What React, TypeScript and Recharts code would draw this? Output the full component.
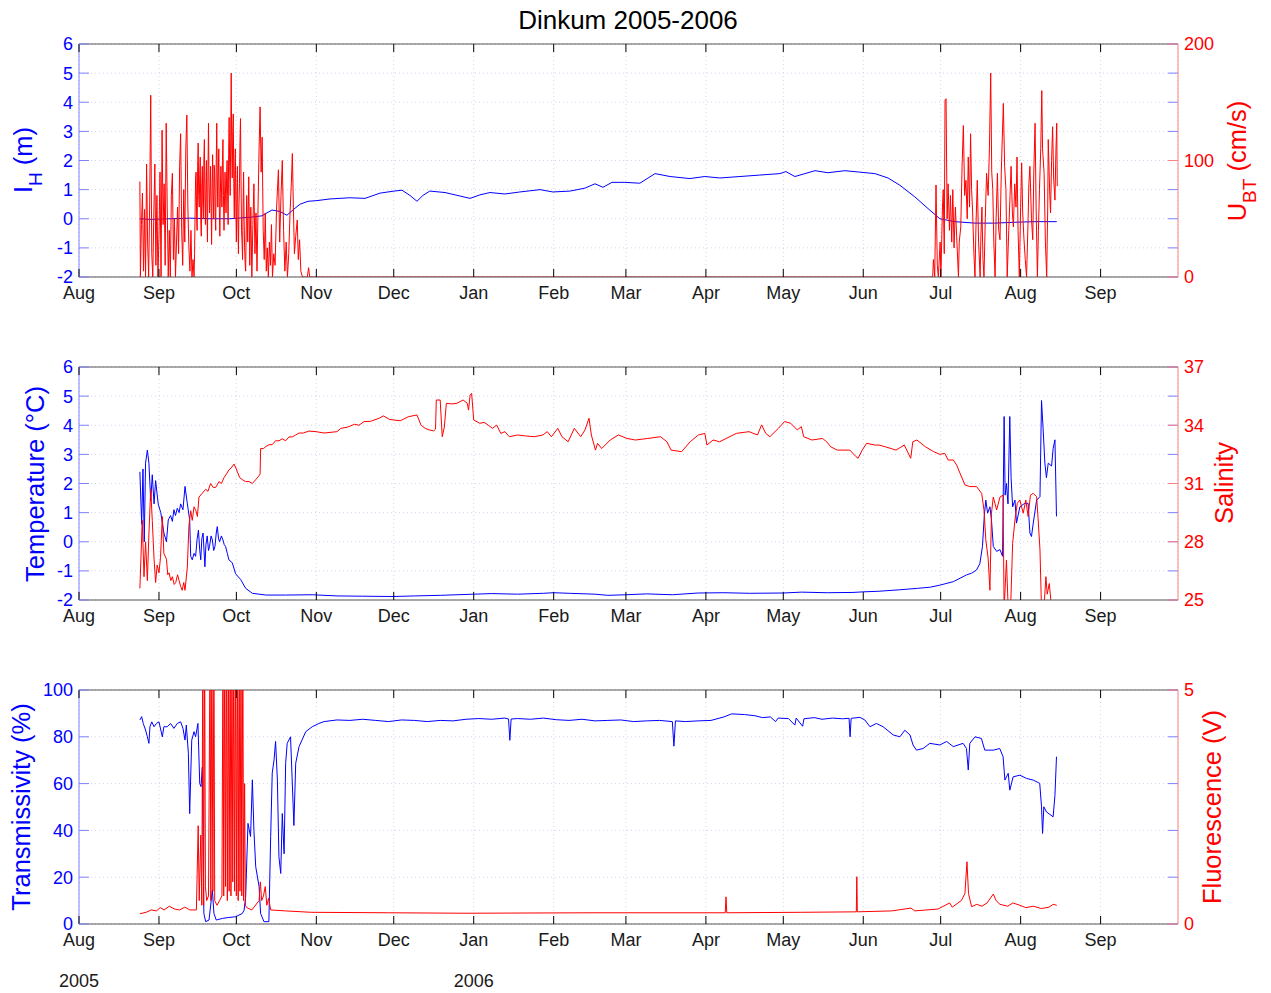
import {
  ComposedChart,
  Line,
  XAxis,
  YAxis,
  CartesianGrid,
  ReferenceLine,
} from "recharts";

const FONT = "'Liberation Sans', Arial, Helvetica, sans-serif";
const BLUE = "#0000ff";
const RED = "#ff0000";
const BLUE_AXIS = "#8080ff";
const RED_AXIS = "#ff8080";
const GRID = "#d2d5ee";
const FRAME = "#555555";
const PLOT_W = 1099;

// x values are days since 1 Aug 2005
const monthTicks = [0, 31, 61, 92, 122, 153, 184, 212, 243, 273, 304, 334, 365, 396];
const monthLabels = ["Aug", "Sep", "Oct", "Nov", "Dec", "Jan", "Feb", "Mar", "Apr", "May", "Jun", "Jul", "Aug", "Sep"];
const yearTicks = [0, 153];
const yearLabels = ["2005", "2006"];

const levelTicks = [-2, -1, 0, 1, 2, 3, 4, 5, 6];
const speedTicks = [0, 100, 200];
const salinityTicks = [25, 28, 31, 34, 37];
const transTicks = [0, 20, 40, 60, 80, 100];
const fluorTicks = [0, 5];

// I_H (m)
const tideLevel = [
  [23.6, 0.0], [27.5, -0.02], [35.3, 0.0], [43, 0.02], [50.8, 0.0], [58.5, 0.0], [66.3, 0.05],
  [70.9, 0.1], [74.8, 0.3], [77.9, 0.25], [80.6, 0.12], [82.9, 0.3], [85.7, 0.5], [88.8, 0.6],
  [91.9, 0.62], [97.3, 0.68], [105, 0.72], [110.9, 0.7], [116.7, 0.88], [122.1, 0.95], [125.2, 0.98],
  [128.3, 0.8], [131, 0.6], [133.3, 0.8], [136, 0.95], [141.9, 0.9], [147.7, 0.78], [151.6, 0.7],
  [155.4, 0.82], [159.3, 0.9], [165.1, 0.85], [170.9, 0.92], [178.7, 1.0], [183.7, 0.92], [190.3, 0.95],
  [196.1, 1.05], [200, 1.2], [203.1, 1.08], [206.6, 1.25], [211.6, 1.25], [217.4, 1.22], [223.3, 1.55],
  [229.1, 1.45], [236.8, 1.38], [242.6, 1.45], [248.4, 1.4], [256.2, 1.45], [263.9, 1.5], [271.7, 1.55],
  [274, 1.62], [277.5, 1.45], [281.4, 1.55], [285.3, 1.65], [290.3, 1.58], [296.9, 1.65], [302.7, 1.6],
  [308.5, 1.55], [313.6, 1.4], [318.2, 1.15], [324, 0.75], [329.1, 0.35], [333.7, 0.0], [339.5, -0.1],
  [347.3, -0.15], [355, -0.15], [362.8, -0.12], [370.5, -0.1], [379, -0.1],
];

// U_BT (cm/s)
const currentSpeed = [
  [23.6, 82], [23.8, 0], [24.2, 45], [24.6, 72], [25.0, 5], [25.4, 58], [25.8, 0], [26.2, 97], [26.6, 30],
  [27.0, 0], [27.4, 65], [27.8, 156], [28.2, 20], [28.6, 0], [29.0, 55], [29.4, 97], [29.8, 10], [30.2, 70],
  [30.6, 0], [31.0, 35], [31.4, 90], [31.8, 0], [32.2, 126], [32.6, 45], [33.0, 80], [33.4, 10], [33.8, 132],
  [34.2, 60], [34.6, 0], [35.0, 40], [35.4, 0], [35.8, 70], [36.2, 89], [36.6, 15], [37.0, 50], [37.4, 0],
  [37.8, 30], [38.2, 60], [38.6, 20], [39.0, 95], [39.4, 123], [39.8, 40], [40.2, 10], [40.6, 75], [41.0, 30],
  [41.4, 110], [41.8, 139], [42.2, 60], [42.6, 25], [43.0, 5], [43.4, 40], [43.8, 0], [44.2, 15], [44.6, 0],
  [44.8, 20], [45.0, 55], [45.2, 85], [45.4, 90], [45.6, 50], [45.8, 40], [46.0, 95], [46.2, 115], [46.4, 70],
  [46.6, 60], [46.8, 88], [47.0, 103], [47.2, 50], [47.4, 35], [47.6, 80], [47.8, 95], [48.0, 62], [48.2, 50],
  [48.4, 100], [48.6, 118], [48.8, 65], [49.0, 45], [49.2, 78], [49.4, 100], [49.6, 55], [49.8, 30],
  [50.0, 92], [50.2, 132], [50.4, 80], [50.6, 55], [50.8, 72], [51.0, 95], [51.2, 60], [51.4, 28], [51.6, 75],
  [51.8, 105], [52.0, 70], [52.2, 50], [52.4, 96], [52.6, 88], [52.8, 55], [53.0, 40], [53.2, 98],
  [53.4, 132], [53.6, 85], [53.8, 60], [54.0, 90], [54.2, 110], [54.4, 58], [54.6, 35], [54.8, 72],
  [55.0, 95], [55.2, 78], [55.4, 60], [55.6, 100], [55.8, 118], [56.0, 70], [56.2, 40], [56.4, 66],
  [56.6, 90], [56.8, 72], [57.0, 55], [57.2, 85], [57.4, 100], [57.6, 70], [57.8, 45], [58.0, 105],
  [58.2, 137], [58.4, 95], [58.6, 70], [58.8, 120], [59.0, 175], [59.2, 110], [59.4, 85], [59.6, 125],
  [59.8, 140], [60.0, 80], [60.2, 50], [60.4, 92], [60.6, 110], [60.8, 60], [61.0, 30], [61.2, 70],
  [61.4, 95], [61.6, 50], [61.8, 20], [62.0, 60], [62.2, 80], [62.4, 115], [62.6, 136], [62.8, 85],
  [63.0, 40], [63.2, 30], [63.4, 15], [63.6, 60], [63.8, 90], [64.0, 50], [64.2, 25], [64.4, 12], [64.6, 5],
  [65.0, 70], [65.4, 30], [65.8, 86], [66.2, 10], [66.6, 60], [67.0, 0], [67.4, 45], [67.8, 80], [68.2, 20],
  [68.6, 55], [69.0, 5], [69.4, 60], [69.8, 110], [70.2, 146], [70.6, 90], [71.0, 120], [71.4, 40],
  [71.8, 15], [72.2, 55], [72.6, 5], [73.0, 25], [73.4, 0], [73.8, 30], [74.2, 10], [74.6, 45], [75.0, 0],
  [75.5, 20], [76.0, 10], [76.6, 60], [77.3, 92], [77.8, 30], [78.3, 70], [78.8, 100], [79.3, 40], [79.8, 5],
  [80.3, 30], [80.8, 0], [81.3, 20], [81.8, 55], [82.3, 80], [82.7, 106], [83.1, 60], [83.5, 20], [84.0, 35],
  [84.6, 49], [85.0, 15], [85.5, 32], [86.0, 5], [86.6, 0], [88.5, 0], [89.0, 8], [89.4, 0], [91, 0],
  [330.9, 0], [331.2, 15], [331.7, 0], [332.2, 79], [332.7, 10], [333.1, 0], [333.8, 30], [334.1, 0],
  [334.7, 60], [335.0, 75], [335.4, 20], [335.7, 152], [336.1, 153], [336.5, 50], [336.9, 80], [337.4, 40],
  [337.8, 70], [338.3, 30], [338.7, 75], [339.2, 25], [339.7, 60], [340.2, 35], [340.9, 0], [341.2, 30],
  [341.8, 43], [342.3, 95], [342.8, 130], [343.3, 70], [343.8, 83], [344.3, 50], [344.7, 103], [345.2, 60],
  [345.6, 123], [346.0, 75], [346.4, 55], [346.9, 20], [347.3, 0], [347.7, 45], [348.2, 83], [348.7, 30],
  [349.3, 0], [349.6, 35], [350.0, 60], [350.4, 15], [350.8, 0], [351.3, 50], [351.8, 89], [352.4, 70],
  [352.9, 110], [353.4, 175], [353.8, 90], [354.2, 75], [354.6, 30], [355.1, 0], [355.5, 50], [356.0, 89],
  [356.5, 40], [357.0, 32], [357.5, 90], [357.9, 120], [358.3, 149], [358.8, 95], [359.3, 75], [359.8, 0],
  [360.4, 40], [360.9, 70], [361.3, 95], [361.8, 55], [362.2, 43], [362.7, 80], [363.2, 60], [363.6, 103],
  [364.0, 40], [364.5, 0], [365.0, 60], [365.4, 98], [365.8, 55], [366.3, 32], [366.8, 15], [367.3, 0],
  [367.9, 50], [368.2, 80], [368.6, 95], [369.2, 50], [369.7, 32], [370.1, 90], [370.6, 132], [371.0, 60],
  [371.5, 0], [371.9, 40], [372.3, 75], [372.8, 110], [373.2, 160], [373.5, 110], [374.1, 89], [374.6, 30],
  [375.1, 0], [375.5, 60], [375.7, 118], [376.3, 70], [376.6, 55], [377.0, 100], [377.4, 129], [377.8, 85],
  [378.3, 66], [378.7, 110], [379.0, 132], [379.2, 78],
];

// Temperature (deg C)
const temperature = [
  [23.6, 2.4], [24.3, 0.6], [24.8, 2.5], [25.3, 0.0], [25.8, 2.7], [26.5, 3.15], [27.1, 2.7], [27.8, 1.4],
  [28.4, 2.3], [29.1, 1.3], [29.7, 2.1], [30.7, 1.3], [31.7, 1.0], [32.9, 0.3], [33.9, 0.0], [34.6, 0.75],
  [35.5, 0.9], [36.2, 0.7], [36.8, 1.1], [37.4, 0.9], [38.1, 1.15], [38.8, 1.0], [39.4, 1.3], [40.3, 1.1],
  [41.1, 1.9], [42.0, 1.3], [42.9, 0.75], [43.3, -0.5], [43.9, -0.62], [44.6, -0.4], [45.2, -0.5], [45.8, 0.1],
  [46.3, 0.4], [46.8, -0.3], [47.2, -0.62], [47.6, 0.1], [48.1, 0.3], [48.8, -0.86], [49.2, -0.1], [49.7, 0.2],
  [50.2, -0.3], [50.6, -0.16], [51.2, 0.2], [51.7, 0.06], [52.2, -0.3], [52.7, -0.16], [53.2, 0.3],
  [53.6, 0.52], [54.1, 0.1], [54.5, 0.0], [55.2, 0.2], [55.8, 0.06], [56.3, -0.1], [56.8, -0.16],
  [57.5, -0.4], [58.1, -0.62], [59.4, -0.72], [60.7, -1.1], [62.7, -1.3], [64.6, -1.6], [67.2, -1.77],
  [72.4, -1.83], [80.1, -1.83], [90.4, -1.82], [100, -1.86], [110, -1.87], [122, -1.88], [130, -1.86],
  [140, -1.84], [153, -1.8], [160, -1.78], [170, -1.8], [180, -1.77], [184, -1.75], [190, -1.77],
  [200, -1.8], [205, -1.84], [212, -1.82], [220, -1.79], [230, -1.82], [240, -1.76], [250, -1.75],
  [260, -1.77], [273, -1.76], [280, -1.73], [290, -1.75], [300, -1.74], [304, -1.72], [310, -1.7],
  [318, -1.65], [325, -1.6], [330, -1.56], [333.7, -1.49], [338.9, -1.37], [344, -1.14], [346, -1.08],
  [347.9, -0.97], [349.2, -0.75], [350.2, -0.16], [350.9, 0.87], [351.5, 1.43], [352.2, 0.98], [353.1, 1.2],
  [353.7, 0.75], [354.4, -0.16], [355.7, -0.33], [357, -0.27], [358, -0.5], [358.6, 4.3], [359.0, 1.6],
  [359.5, 2.0], [360.1, 1.3], [360.8, 4.3], [361.3, 2.2], [361.9, 1.2], [362.8, 1.43], [363.4, 0.64],
  [364.7, 1.2], [366.6, 1.32], [367.9, 1.32], [368.6, 0.3], [369.2, 0.18], [369.9, 0.64], [371.2, 1.43],
  [372.5, 1.55], [373.1, 4.85], [373.7, 3.9], [374.4, 2.7], [375.0, 2.2], [375.7, 2.7], [377, 2.6],
  [377.6, 3.2], [378.3, 3.5], [378.9, 0.87],
];

// Salinity
const salinity = [
  [23.6, 25.6], [24.0, 27.1], [24.5, 29.1], [25.2, 26.2], [25.8, 28.0], [26.5, 26.0], [27.1, 28.4],
  [27.8, 30.7], [28.4, 29.1], [29.1, 27.1], [29.7, 25.9], [30.3, 26.8], [31.0, 26.4], [31.6, 27.2],
  [32.3, 29.3], [32.9, 27.4], [33.9, 27.1], [34.4, 26.3], [34.9, 26.4], [35.6, 26.0], [36.2, 26.2],
  [36.9, 25.8], [37.5, 25.9], [38.2, 26.3], [38.8, 26.0], [39.4, 25.7], [40.0, 25.5], [40.6, 25.9],
  [41.1, 25.5], [42.0, 26.7], [42.6, 28.8], [43.3, 29.6], [43.9, 29.1], [44.6, 29.8], [45.3, 29.6],
  [45.9, 29.3], [46.5, 30.3], [47.8, 30.5], [49.1, 30.7], [50.0, 30.6], [51.0, 31.0], [52.0, 30.8],
  [53.0, 30.8], [54.3, 31.1], [55.2, 31.0], [56.2, 31.3], [57.2, 31.5], [58.1, 31.7], [59.0, 31.8],
  [60.1, 32.0], [60.8, 31.8], [61.4, 31.6], [62.3, 31.3], [63.3, 31.2], [64.5, 31.1], [65.9, 31.1],
  [67.2, 31.0], [68.5, 31.2], [69.8, 31.4], [70.2, 31.5], [70.4, 32.8], [71.5, 32.8], [72.4, 32.9],
  [73.7, 33.0], [74.9, 33.0], [76.2, 33.2], [77.5, 33.2], [78.8, 33.3], [80.1, 33.2], [81.4, 33.4],
  [82.7, 33.4], [84.0, 33.5], [85.3, 33.6], [87.0, 33.6], [89.1, 33.7], [91.9, 33.67], [95, 33.6],
  [100, 33.67], [101.5, 33.84], [104, 33.9], [106.8, 34.05], [108.5, 34.0], [110.5, 34.19], [113, 34.2],
  [116.3, 34.36], [118, 34.48], [120.4, 34.3], [124.5, 34.23], [127.7, 34.44], [131, 34.53], [132.6, 34.0],
  [134.2, 33.84], [136, 33.75], [137.5, 33.71], [138.2, 33.8], [138.5, 35.3], [140, 35.3], [140.8, 33.41],
  [141.6, 33.9], [142.4, 35.13], [144.5, 35.1], [146.5, 35.13], [148.9, 35.3], [150.5, 35.13], [151, 34.78],
  [151.6, 35.55], [152.2, 35.64], [153, 34.27], [155.4, 34.1], [157, 34.15], [158.6, 34.01], [160.3, 33.84],
  [161.9, 34.01], [163.5, 33.58], [165.1, 33.67], [166.8, 33.41], [170, 33.5], [173, 33.45], [176.6, 33.41],
  [179.8, 33.5], [181.5, 33.67], [183.1, 33.41], [185.6, 33.84], [187.2, 33.41], [189.6, 33.15],
  [192, 33.84], [194.5, 33.41], [196.1, 33.75], [197.7, 34.36], [198.6, 33.5], [200.2, 32.72], [201, 33.07],
  [202.6, 32.8], [205.9, 33.24], [209.1, 33.5], [212.4, 33.32], [215.7, 33.24], [220.5, 33.32],
  [225.4, 33.41], [227.9, 33.15], [229.5, 32.72], [233.6, 32.64], [236.9, 33.15], [240.1, 33.5],
  [242.6, 33.58], [243.4, 32.98], [245.8, 33.24], [248.3, 33.15], [254.8, 33.58], [259.7, 33.67], [263, 33.5],
  [264.6, 34.02], [266.2, 33.58], [267.8, 33.41], [271.1, 33.84], [273.5, 34.19], [275.9, 34.1],
  [278.4, 33.76], [280, 33.93], [280.9, 33.41], [284.1, 33.24], [288.2, 33.32], [289.8, 33.15],
  [291.4, 32.89], [293.9, 32.72], [298.8, 32.72], [301.2, 32.38], [302, 32.3], [303.6, 32.72],
  [305.3, 33.07], [308.5, 32.98], [310.1, 32.98], [312.6, 32.89], [316.7, 32.72], [319.9, 32.98],
  [322.4, 32.3], [323.2, 33.15], [324.8, 33.24], [328.1, 32.89], [331.3, 32.64], [333.7, 32.5],
  [335.6, 32.55], [336.9, 32.21], [338.9, 32.21], [340.2, 31.95], [341.5, 31.53], [343.4, 30.93],
  [345.3, 30.84], [347.9, 30.84], [349.9, 30.49], [350.8, 29.64], [351.5, 28.1], [352.4, 27.15],
  [353.1, 25.5], [353.7, 29.47], [354.4, 30.3], [355.7, 29.64], [357, 30.3], [358.2, 30.4], [358.6, 24.5],
  [359.5, 27.06], [360.2, 24.5], [361.1, 24.5], [361.9, 27.92], [362.8, 29.12], [363.7, 29.98],
  [364.7, 30.15], [366, 29.47], [367, 30.15], [367.9, 29.3], [368.8, 30.4], [369.9, 30.49], [371.2, 30.32],
  [371.8, 29.12], [372.5, 27.58], [373.1, 24.5], [374, 24.5], [374.8, 26.2], [375.3, 25.3], [376.1, 25.85],
  [376.6, 25.15], [377.0, 24.5],
];

// Transmissivity (%)
const transmissivity = [
  [23.6, 87.2], [24.3, 88.6], [24.9, 85.7], [25.8, 82.9], [26.5, 80], [27.1, 77.2], [27.5, 84.3],
  [28.2, 86.4], [29.1, 84.3], [30.0, 85.7], [31.0, 86.4], [32.3, 80], [32.9, 84.3], [34.2, 84.3],
  [35.5, 85.7], [36.8, 83.6], [38.1, 85.7], [39.4, 86.4], [40.3, 83.6], [41.1, 78.6], [41.6, 85],
  [42.4, 72.9], [42.9, 47.2], [43.7, 78.6], [44.6, 82.2], [45.2, 80], [46.1, 85.7], [46.8, 60], [47.3, 58.7],
  [47.8, 67], [48.4, 4.5], [49.1, 1], [50.4, 1.7], [51.7, 14.5], [52.3, 4.5], [53.2, 1.7], [55.6, 2.4],
  [58.1, 2.8], [60.7, 3.1], [63.3, 4.5], [64.0, 5.9], [64.6, 11.5], [65.5, 43], [66.5, 37.4], [67.2, 61.6],
  [67.8, 40], [68.5, 24.5], [69.8, 16], [70.4, 4.5], [71.7, 1], [73.6, 1], [74.3, 37.4], [74.9, 64.5],
  [75.6, 70.1], [76.2, 78], [76.9, 61.5], [77.5, 28.7], [78.2, 21.6], [78.8, 47.2], [79.5, 30], [80.1, 68.7],
  [80.7, 77.2], [82.0, 80], [83.3, 42.1], [84.0, 68.7], [85.3, 75.8], [87.9, 82.2], [90.4, 84.3],
  [93, 85.7], [95, 86.5], [100, 87.2], [105, 87], [110, 87.5], [115, 87], [120, 86.5], [125, 87.2],
  [130, 87], [135, 86.5], [140, 87], [145, 86.8], [150, 87.5], [155, 87.8], [160, 87.5], [165, 88],
  [166.5, 87.6], [167, 78.5], [167.5, 87.6], [170, 87.8], [175, 87.5], [180, 88], [185, 87.3], [190, 87],
  [195, 87.5], [200, 86.8], [205, 87], [210, 87.2], [215, 86.5], [220, 86.8], [225, 87], [230, 86.5],
  [230.6, 76], [231.2, 86.8], [235, 86.5], [240, 86.8], [245, 87], [250, 88.5], [253, 89.8], [258, 89.5],
  [262, 89], [265, 88.2], [268, 88.5], [270, 86.5], [271, 88], [275, 87.8], [277.5, 85], [278, 88],
  [280.5, 84.5], [281, 87.7], [285, 88.2], [288, 87.5], [292, 88], [296, 87.7], [298.5, 87.9], [298.9, 80],
  [299.3, 87.9], [302.7, 88.3], [304.6, 87.2], [306.6, 84.3], [309.1, 85.7], [311.7, 84.3], [315.6, 80.8],
  [318.2, 80], [320.1, 82.8], [322.1, 80.8], [323.3, 76.5], [324.6, 74.3], [327.2, 75], [329.8, 77.2],
  [333.7, 76.5], [336.3, 78], [338.9, 75.8], [342.7, 77.2], [344, 75], [344.7, 65.8], [345.3, 77.2],
  [347.3, 80], [349.8, 79.3], [351.1, 74.3], [354.4, 74.3], [356.9, 75], [358.2, 71.5], [358.9, 61.5],
  [360.2, 64.4], [360.8, 57.2], [362.1, 62.9], [364.7, 63.6], [367.3, 62.2], [369.9, 61.5], [372.4, 60.1],
  [373.1, 50.1], [373.5, 38.7], [374, 50.1], [375, 47.9], [377.6, 45.8], [378.3, 55], [378.9, 71.5],
];

// Fluorescence (V)
const fluorescence = [
  [23.6, 0.22], [26, 0.25], [28, 0.3], [30, 0.28], [31.5, 0.35], [33, 0.3], [35, 0.38], [37, 0.32],
  [39, 0.3], [41, 0.36], [43, 0.3], [45.5, 0.3], [46.2, 2.1], [46.6, 0.5], [47.2, 1.9], [47.6, 0.4],
  [48.0, 6], [48.3, 0.4], [48.7, 6], [49.0, 0.8], [49.5, 0.5], [50.2, 0.6], [50.8, 6], [51.1, 0.5],
  [51.5, 6], [51.9, 0.7], [52.3, 6], [52.6, 0.5], [53.5, 0.4], [54.5, 0.5], [55.4, 0.6], [55.8, 6],
  [56.1, 0.6], [56.5, 6], [56.8, 0.8], [57.2, 6], [57.5, 0.5], [57.9, 6], [58.2, 0.7], [58.6, 6],
  [58.9, 0.6], [59.3, 6], [59.6, 0.9], [60.0, 6], [60.3, 0.7], [60.7, 6], [61.0, 0.6], [61.4, 6],
  [61.7, 0.5], [62.1, 6], [62.4, 0.7], [62.8, 6], [63.1, 0.6], [63.5, 6], [63.8, 0.5], [64.2, 3],
  [64.5, 0.4], [65, 0.35], [67, 0.3], [69.8, 0.5], [70.3, 0.9], [70.8, 0.5], [71.5, 0.6], [72.2, 0.8],
  [72.8, 0.4], [73.5, 0.55], [74.3, 0.3], [80, 0.28], [90, 0.25], [120, 0.24], [150, 0.23], [200, 0.24],
  [250.5, 0.24], [250.8, 0.58], [251.1, 0.24], [280, 0.25], [301.3, 0.26], [301.5, 1.01], [301.7, 0.26],
  [315, 0.28], [322.5, 0.34], [324, 0.28], [333, 0.32], [337.5, 0.45], [338.5, 0.36], [342, 0.5],
  [343.4, 0.65], [344.2, 1.33], [344.8, 0.65], [346, 0.37], [348, 0.42], [350, 0.38], [352, 0.45],
  [354.4, 0.64], [355.5, 0.5], [357, 0.42], [360, 0.38], [362, 0.45], [364.7, 0.4], [367, 0.35],
  [370, 0.38], [373, 0.33], [376, 0.36], [377.6, 0.42], [379, 0.4],
];

type Row = { d: number; v: number };
const toRows = (pts: number[][]): Row[] => pts.map(([d, v]) => ({ d, v }));

function makeXTick(plotH: number, withYears: boolean) {
  return (p: any) => {
    const { x, y, payload } = p;
    const i = monthTicks.indexOf(payload.value);
    const yi = yearTicks.indexOf(payload.value);
    return (
      <g>
        <line x1={x} x2={x} y1={y} y2={y - 8} stroke="#000" />
        <line x1={x} x2={x} y1={y - plotH} y2={y - plotH + 8} stroke="#000" />
        <text x={x} y={y + 22} textAnchor="middle" fontSize={18} fill="#1a1a1a" fontFamily={FONT}>
          {monthLabels[i]}
        </text>
        {withYears && yi >= 0 && (
          <text x={x} y={y + 63} textAnchor="middle" fontSize={18} fill="#1a1a1a" fontFamily={FONT}>
            {yearLabels[yi]}
          </text>
        )}
      </g>
    );
  };
}

const leftTick = (p: any) => (
  <g>
    <line x1={p.x} x2={p.x + 10} y1={p.y} y2={p.y} stroke={BLUE_AXIS} />
    <line x1={p.x + PLOT_W - 10} x2={p.x + PLOT_W} y1={p.y} y2={p.y} stroke={BLUE_AXIS} />
    <text x={p.x - 6} y={p.y} dy="0.36em" textAnchor="end" fontSize={18} fill={BLUE} fontFamily={FONT}>
      {String(p.payload.value)}
    </text>
  </g>
);

const rightTick = (p: any) => (
  <g>
    <line x1={p.x - 10} x2={p.x} y1={p.y} y2={p.y} stroke={RED_AXIS} />
    <text x={p.x + 6} y={p.y} dy="0.36em" textAnchor="start" fontSize={18} fill={RED} fontFamily={FONT}>
      {String(p.payload.value)}
    </text>
  </g>
);

interface PanelProps {
  top: number;
  plotH: number;
  axisH: number;
  leftDomain: [number, number];
  leftTicks: number[];
  rightDomain: [number, number];
  rightTicks: number[];
  blue: number[][];
  red: number[][];
  years?: boolean;
}

function Panel({ top, plotH, axisH, leftDomain, leftTicks, rightDomain, rightTicks, blue, red, years }: PanelProps) {
  return (
    <div style={{ position: "absolute", left: 0, top }}>
      <ComposedChart width={1271} height={20 + plotH + axisH} margin={{ top: 20, right: 0, bottom: 0, left: 0 }}>
        <CartesianGrid yAxisId="l" stroke={GRID} strokeDasharray="1 3" />
        <XAxis
          dataKey="d"
          type="number"
          domain={[0, 426]}
          ticks={monthTicks}
          interval={0}
          allowDataOverflow
          height={axisH}
          tickSize={0}
          tickMargin={0}
          tickLine={false}
          axisLine={{ stroke: FRAME }}
          tick={makeXTick(plotH, !!years)}
        />
        <YAxis
          yAxisId="l"
          orientation="left"
          width={79}
          type="number"
          domain={leftDomain}
          ticks={leftTicks}
          interval={0}
          allowDataOverflow
          tickSize={0}
          tickMargin={0}
          tickLine={false}
          axisLine={{ stroke: BLUE_AXIS }}
          tick={leftTick}
        />
        <YAxis
          yAxisId="r"
          orientation="right"
          width={93}
          type="number"
          domain={rightDomain}
          ticks={rightTicks}
          interval={0}
          allowDataOverflow
          tickSize={0}
          tickMargin={0}
          tickLine={false}
          axisLine={{ stroke: RED_AXIS }}
          tick={rightTick}
        />
        <ReferenceLine yAxisId="l" y={leftDomain[1]} stroke={FRAME} />
        <Line
          yAxisId="l"
          data={toRows(blue)}
          dataKey="v"
          type="linear"
          stroke={BLUE}
          strokeWidth={1}
          dot={false}
          isAnimationActive={false}
        />
        <Line
          yAxisId="r"
          data={toRows(red)}
          dataKey="v"
          type="linear"
          stroke={RED}
          strokeWidth={1}
          dot={false}
          isAnimationActive={false}
        />
      </ComposedChart>
    </div>
  );
}

export default function App() {
  return (
    <div style={{ position: "absolute", left: 0, top: 0, width: 1271, height: 993, background: "#fff" }}>
      <Panel top={24} plotH={233} axisH={40} leftDomain={[-2, 6]} leftTicks={levelTicks}
        rightDomain={[0, 200]} rightTicks={speedTicks} blue={tideLevel} red={currentSpeed} />
      <Panel top={347} plotH={233} axisH={40} leftDomain={[-2, 6]} leftTicks={levelTicks}
        rightDomain={[25, 37]} rightTicks={salinityTicks} blue={temperature} red={salinity} />
      <Panel top={670} plotH={234} axisH={70} leftDomain={[0, 100]} leftTicks={transTicks}
        rightDomain={[0, 5]} rightTicks={fluorTicks} blue={transmissivity} red={fluorescence} years />
      <svg width={1271} height={993} style={{ position: "absolute", left: 0, top: 0, pointerEvents: "none" }}
        fontFamily={FONT}>
        <text x={628} y={29} textAnchor="middle" fontSize={26} fill="#000">Dinkum 2005-2006</text>
        <text transform="rotate(-90 32 160)" x={32} y={160} textAnchor="middle" fontSize={25.5} fill={BLUE}>
          I<tspan fontSize={19} dy={10}>H</tspan><tspan dy={-10}> (m)</tspan>
        </text>
        <text transform="rotate(-90 1246 161)" x={1246} y={161} textAnchor="middle" fontSize={25.5} fill={RED}>
          U<tspan fontSize={19} dy={10}>BT</tspan><tspan dy={-10}> (cm/s)</tspan>
        </text>
        <text transform="rotate(-90 44 484)" x={44} y={484} textAnchor="middle" fontSize={25.5} fill={BLUE}>
          Temperature (°C)
        </text>
        <text transform="rotate(-90 1233 483)" x={1233} y={483} textAnchor="middle" fontSize={25.5} fill={RED}>
          Salinity
        </text>
        <text transform="rotate(-90 30 807)" x={30} y={807} textAnchor="middle" fontSize={25.5} fill={BLUE}>
          Transmissivity (%)
        </text>
        <text transform="rotate(-90 1221 807)" x={1221} y={807} textAnchor="middle" fontSize={25.5} fill={RED}>
          Fluorescence (V)
        </text>
      </svg>
    </div>
  );
}
